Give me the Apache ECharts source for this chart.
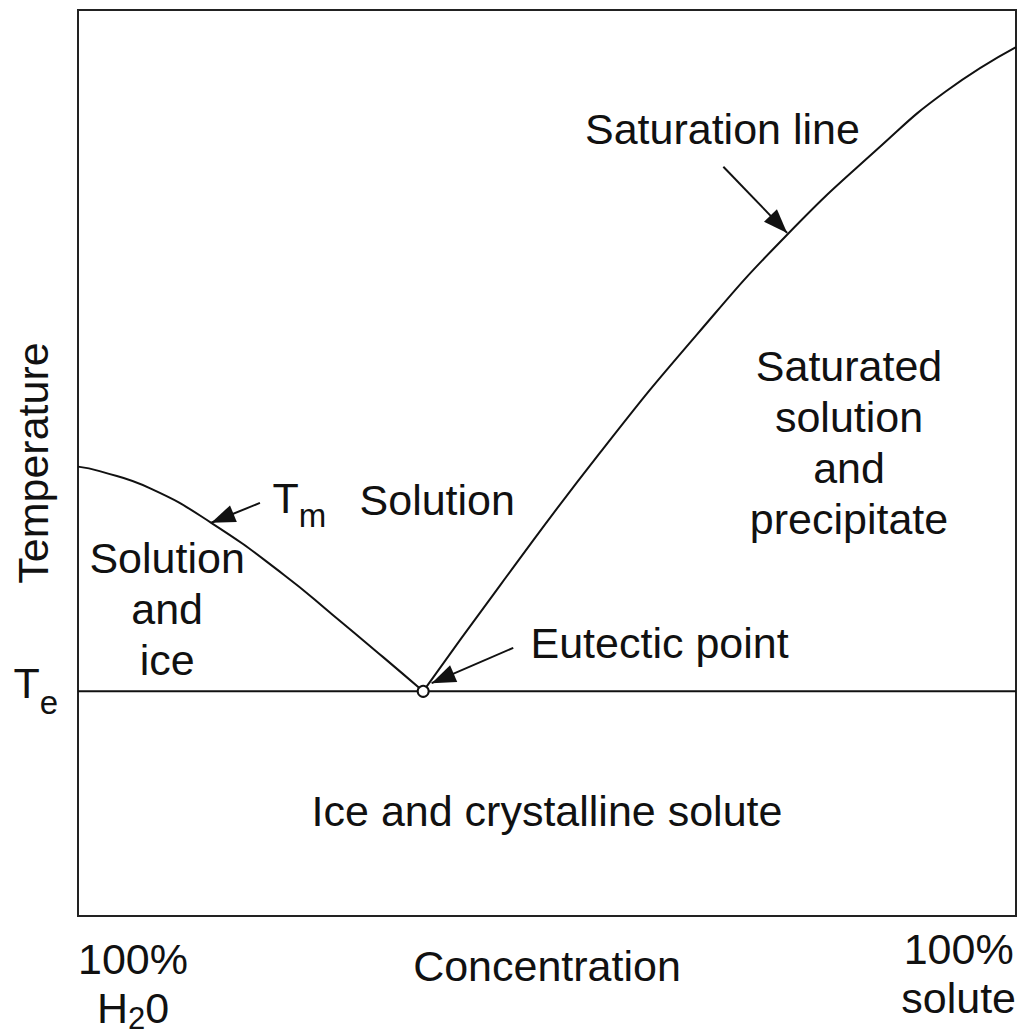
<!DOCTYPE html>
<html>
<head>
<meta charset="utf-8">
<script src="https://cdn.jsdelivr.net/npm/echarts@6/dist/echarts.min.js"></script>
<style>
  html, body { margin: 0; padding: 0; background: #fff; }
  #main { width: 1019px; height: 1036px; }
</style>
</head>
<body>
<div id="main"></div>
<script>
// phase diagram, values in % of the plot range (0..100 on both axes)
const TE = 24.8;
const eutectic = [36.8, 24.8];

// freezing curve (T_m) from pure water down to the eutectic point
const meltCurve = [
  [0, 49.6], [2.3, 49.1], [7.7, 47.2], [14.2, 43.4], [21.9, 37.7],
  [27.2, 33.2], [32.5, 28.6], [36.8, 24.8]
];

// saturation (solubility) curve
const saturationCurve = [
  [36.8, 24.8], [45.0, 36.5], [55.7, 51.2], [66.0, 64.2],
  [75.6, 75.2], [85.5, 84.9], [92.5, 91.0], [100, 95.9]
];

const teLine = [[0, TE], [100, TE]];

// region names and where they sit
const regionText = ['Solution\nand\nice', 'Solution', 'Saturated\nsolution\nand\nprecipitate', 'Ice and crystalline solute'];
const regionAt = [[9.5, 33.9], [38.3, 45.9], [82.2, 52.3], [50.0, 11.6]];

// callouts: label, label anchor, arrow tail, arrow tip
const calloutText = ['{t|T}{s|m}', 'Eutectic point', 'Saturation line'];
const calloutAt = [[23.6, 46.1], [62.0, 30.1], [68.7, 86.9]];
const arrowFrom = [[19.4, 45.6], [46.4, 29.6], [68.8, 82.7]];
const arrowTo = [[14.2, 43.4], [37.7, 25.7], [75.6, 75.4]];

const FONT = 'Liberation Sans';
const INK = '#111';

var chartDom = document.getElementById('main');
var myChart = echarts.init(chartDom, null, { renderer: 'svg' });
var option;

const textStyle = { fontFamily: FONT, fontSize: 43, color: INK };

const labelPoints = regionText.map((t, i) => ({
  value: regionAt[i],
  label: { formatter: t }
})).concat(calloutText.map((t, i) => ({
  value: calloutAt[i],
  label: { formatter: t }
})));

option = {
  animation: false,
  backgroundColor: '#fff',
  textStyle: { fontFamily: FONT },
  grid: {
    left: 78,
    right: 3,
    top: 10,
    bottom: 120,
    containLabel: false,
    outerBoundsMode: 'none',
    show: true,
    borderColor: '#222',
    borderWidth: 2
  },
  xAxis: [
    {
      type: 'value',
      min: 0,
      max: 100,
      position: 'bottom',
      name: 'Concentration',
      nameLocation: 'middle',
      nameGap: 28,
      nameMoveOverlap: false,
      nameTextStyle: textStyle,
      axisLine: { show: false },
      axisTick: { show: false },
      splitLine: { show: false },
      axisLabel: {
        customValues: [0],
        align: 'left',
        margin: 18,
        formatter: () => '{a|100%}\n{a|H}{b|2}{a|0}',
        rich: {
          a: { fontFamily: FONT, fontSize: 43, color: INK, lineHeight: 49, align: 'center' },
          b: { fontFamily: FONT, fontSize: 31, color: INK, lineHeight: 49, padding: [22, 0, 0, 0], align: 'center' }
        }
      }
    },
    {
      type: 'value',
      min: 0,
      max: 100,
      position: 'bottom',
      axisLine: { show: false },
      axisTick: { show: false },
      splitLine: { show: false },
      axisLabel: {
        customValues: [100],
        align: 'right',
        margin: 8,
        formatter: () => '{a|100%}\n{a|solute}',
        rich: {
          a: { fontFamily: FONT, fontSize: 43, color: INK, lineHeight: 49, align: 'center' }
        }
      }
    }
  ],
  yAxis: {
    type: 'value',
    min: 0,
    max: 100,
    name: 'Temperature',
    nameLocation: 'middle',
    nameRotate: 90,
    nameGap: 24,
    nameMoveOverlap: false,
    nameTextStyle: textStyle,
    axisLine: { show: false },
    axisTick: { show: false },
    splitLine: { show: false },
    axisLabel: {
      customValues: [TE],
      margin: 20,
      formatter: () => '{t|T}{s|e}',
      rich: {
        t: { fontFamily: FONT, fontSize: 43, color: INK, lineHeight: 50, padding: [0, 0, 16, 0] },
        s: { fontFamily: FONT, fontSize: 33, color: INK, lineHeight: 50, padding: [22, 0, 0, 0] }
      }
    }
  },
  series: [
    {
      name: 'Tm',
      type: 'line',
      data: meltCurve,
      smooth: 0.5,
      showSymbol: false,
      silent: true,
      lineStyle: { color: INK, width: 2 }
    },
    {
      name: 'Saturation',
      type: 'line',
      data: saturationCurve,
      smooth: 0.5,
      showSymbol: false,
      silent: true,
      lineStyle: { color: INK, width: 2 }
    },
    {
      name: 'Te',
      type: 'line',
      data: teLine,
      showSymbol: false,
      silent: true,
      lineStyle: { color: INK, width: 2 },
      markLine: {
        silent: true,
        symbol: ['none', 'triangle'],
        symbolSize: [18, 24],
        symbolOffset: [[0, 0], [0, 12]],
        label: { show: false },
        lineStyle: { color: INK, width: 2, type: 'solid' },
        emphasis: { disabled: true },
        data: arrowFrom.map((p, i) => [{ coord: p }, { coord: arrowTo[i] }])
      }
    },
    {
      name: 'Eutectic',
      type: 'scatter',
      data: [eutectic],
      symbol: 'circle',
      symbolSize: 11,
      silent: true,
      z: 5,
      itemStyle: { color: '#fff', borderColor: INK, borderWidth: 2, opacity: 1 }
    },
    {
      name: 'Labels',
      type: 'scatter',
      data: labelPoints,
      symbolSize: 1,
      silent: true,
      itemStyle: { color: 'transparent', opacity: 1 },
      label: {
        show: true,
        position: 'inside',
        fontFamily: FONT,
        fontSize: 43,
        color: INK,
        opacity: 1,
        lineHeight: 51,
        align: 'center',
        verticalAlign: 'middle',
        rich: {
          t: { fontFamily: FONT, fontSize: 43, color: INK, lineHeight: 50 },
          s: { fontFamily: FONT, fontSize: 33, color: INK, lineHeight: 50, padding: [34, 0, 0, 0] }
        }
      }
    }
  ]
};

option && myChart.setOption(option);
</script>
</body>
</html>
